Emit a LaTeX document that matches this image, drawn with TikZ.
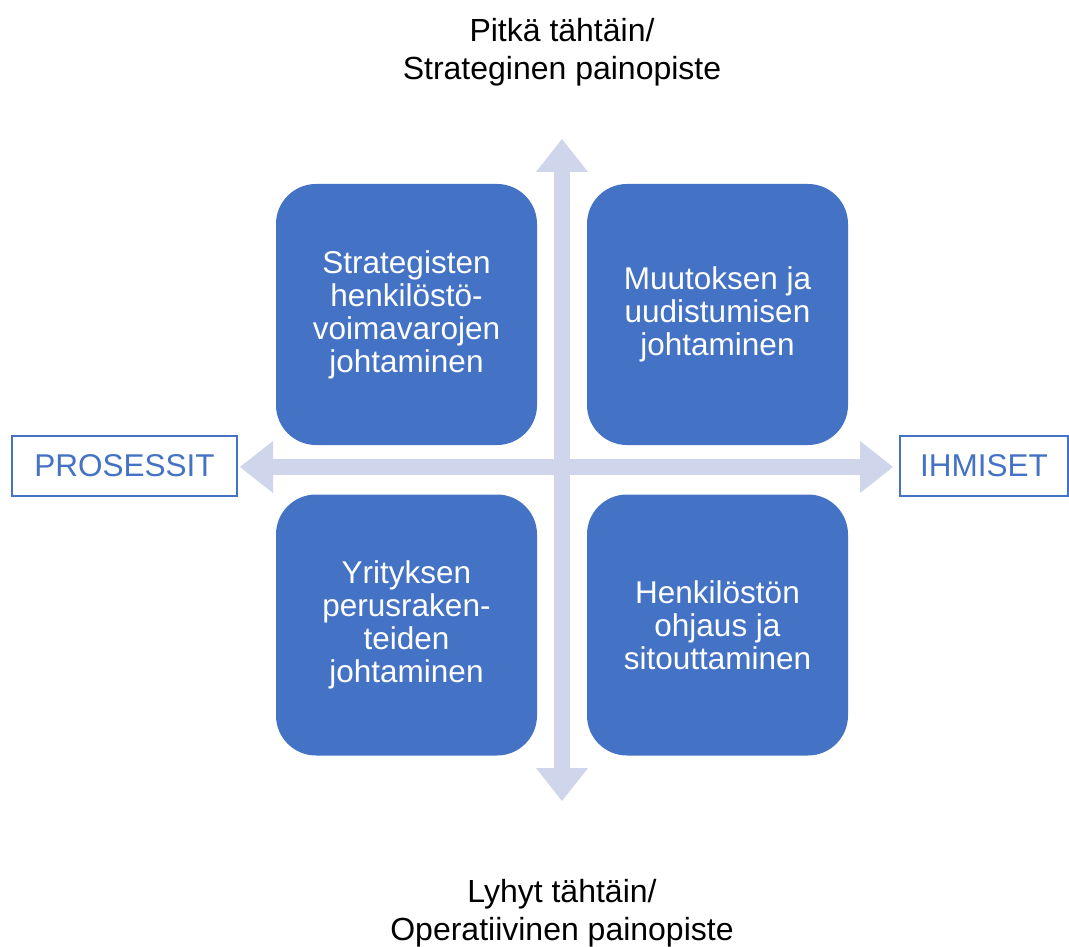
\documentclass[tikz,border=0pt]{standalone}
\usepackage{fontspec}
\setmainfont{Liberation Sans}
\usetikzlibrary{arrows.meta}
\definecolor{boxblue}{HTML}{4472C4}
\definecolor{axis}{HTML}{CFD5EA}
\begin{document}
\begin{tikzpicture}[x=1pt,y=-1pt,
  quad/.style={fill=boxblue, draw=none, rounded corners=40pt, minimum width=261pt, minimum height=261pt,
    text=white, align=center, font=\fontsize{31.5}{33}\selectfont, inner sep=0pt},
  axislabel/.style={draw=boxblue, line width=1.3pt, text=boxblue, font=\fontsize{31.5}{34}\selectfont,
    minimum height=60pt, inner sep=0pt},
  title/.style={align=center, font=\fontsize{32}{38}\selectfont, text=black},
  axisarrow/.style={draw=axis, line width=16pt, {Triangle[width=52pt,length=33pt,line width=0pt]}-{Triangle[width=52pt,length=33pt,line width=0pt]}}
]
\useasboundingbox (0,0) rectangle (1069,947);
\fill[white] (0,0) rectangle (1069,947);
% axis labels
\node[axislabel, minimum width=225pt] (prosessit) at (124.5,466) {PROSESSIT};
\node[axislabel, minimum width=168pt] (ihmiset) at (984,466) {IHMISET};
% axis end coordinates
\coordinate (topend) at (562,139);
\coordinate (botend) at (562,801);
\coordinate (leftend) at (240,467);
\coordinate (rightend) at (893,467);
\draw[axisarrow] (botend) -- (topend);
\draw[axisarrow] (leftend) -- (rightend);
% quadrants
\node[quad] (tl) at (406.5,314.5) {Strategisten\\henkilöstö-\\voimavarojen\\johtaminen};
\node[quad] (tr) at (717.5,314.5) {Muutoksen ja\\uudistumisen\\johtaminen};
\node[quad] (bl) at (406.5,625) {Yrityksen\\perusraken-\\teiden\\johtaminen};
\node[quad] (br) at (717.5,625) {Henkilöstön\\ohjaus ja\\sitouttaminen};
% titles
\node[title] (toptitle) at (562,52) {Pitkä tähtäin/\\Strateginen painopiste};
\node[title] (bottitle) at (562,913) {Lyhyt tähtäin/\\Operatiivinen painopiste};
\end{tikzpicture}
\end{document}
